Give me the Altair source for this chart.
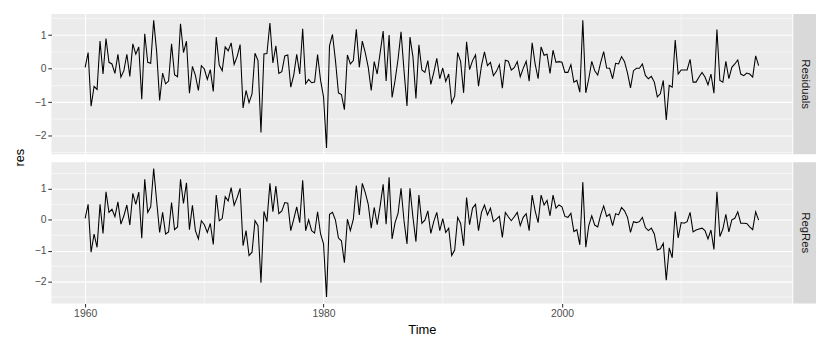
import altair as alt
import pandas as pd

# ---------------- data (quarterly, starting 1960 Q1) ----------------
start_year = 1960
periods_per_year = 4
series_names = ["Residuals", "RegRes"]
y_title = "res"

residuals = [
    0.04, 0.48, -1.12, -0.53, -0.62, 0.82, -0.16, 0.90, 0.19, 0.14,
    -0.14, 0.43, -0.25, -0.06, 0.43, -0.23, 0.74, 0.43, 0.65, -0.91,
    1.04, 0.19, 0.16, 1.44, 0.50, -0.95, -0.13, -0.45, -0.37, 0.74,
    -0.18, -0.24, 1.34, 0.48, 0.82, -0.73, 0.07, -0.20, -0.65, 0.09,
    -0.01, -0.32, -0.03, -0.68, 0.94, 0.11, -0.06, 0.65, 0.53, 0.77,
    0.13, 0.36, 0.72, -1.17, -0.65, -1.01, -0.75, 0.46, 0.24, -1.90,
    0.44, 0.45, 1.36, 0.17, 0.68, -0.14, -0.09, 0.38, 0.41, -0.55,
    -0.19, 0.43, -0.16, 1.19, -0.45, -0.32, -0.42, -0.40, 0.42, -0.35,
    -0.84, -2.36, 0.68, 1.02, 0.24, -0.72, -0.77, -1.22, 0.41, 0.14,
    0.24, 1.17, 0.04, 0.82, 0.48, 0.04, -0.65, 0.21, -0.16, 0.48,
    1.12, -0.37, 1.00, -0.86, -0.35, 0.28, 1.10, -0.05, -1.11, 0.94,
    0.35, -0.89, 0.71, -0.04, -0.11, 0.24, -0.47, -0.11, 0.31, -0.30,
    0.02, -0.38, -0.16, -1.02, -0.82, 0.48, 0.21, -0.72, 0.80, -0.03,
    0.24, 0.41, -0.52, 0.09, 0.50, 0.09, 0.19, -0.21, -0.08, 0.12,
    -0.58, 0.25, 0.22, -0.04, 0.03, 0.21, -0.24, 0.01, 0.22, -0.37,
    0.77, 0.14, -0.30, 0.65, 0.40, 0.43, -0.14, 0.55, 0.19, 0.21,
    0.19, -0.11, -0.11, 0.12, -0.40, -0.35, -0.70, 1.44, -0.72, -0.30,
    0.22, -0.06, -0.19, 0.19, 0.51, 0.02, 0.01, -0.30, 0.16, 0.14,
    0.36, 0.21, -0.13, -0.57, -0.06, 0.01, 0.01, 0.14, -0.20, -0.30,
    -0.23, -0.40, -0.84, -0.75, -0.35, -1.53, -0.50, -0.55, 0.85, -0.16,
    -0.04, -0.04, -0.04, 0.28, -0.40, -0.40, -0.25, -0.11, -0.25, -0.48,
    -0.16, -0.73, 1.17, -0.35, -0.40, 0.22, -0.30, 0.04, 0.14, 0.26,
    -0.16, -0.21, -0.13, -0.16, -0.25, 0.38, 0.09,
]

regres = [
    0.05, 0.50, -1.05, -0.46, -0.89, 0.50, -0.44, 0.91, 0.24, 0.34,
    0.10, 0.58, -0.14, 0.13, 0.48, -0.17, 0.86, 0.50, 0.90, -0.60,
    1.31, 0.24, 0.42, 1.66, 0.60, -0.41, 0.24, -0.46, -0.39, 0.56,
    -0.32, -0.23, 1.31, 0.53, 1.20, -0.32, 0.47, -0.35, -0.62, -0.03,
    -0.16, -0.41, -0.12, -0.80, 0.80, -0.03, 0.04, 0.75, 0.61, 1.04,
    0.47, 0.72, 1.02, -0.84, -0.35, -1.16, -1.05, -0.03, -0.19, -2.04,
    0.27, -0.06, 1.18, 0.26, 1.09, 0.20, 0.29, 0.56, 0.54, -0.35,
    0.02, 0.42, -0.09, 1.28, -0.35, 0.00, -0.35, -0.43, 0.26, -0.46,
    -0.78, -2.50, 0.18, 0.24, -0.01, -0.59, -0.68, -1.39, 0.02, -0.35,
    0.02, 1.11, 0.16, 1.18, 0.88, 0.50, -0.27, 0.40, -0.16, 0.45,
    1.15, -0.14, 1.38, -0.62, -0.09, 0.21, 1.02, -0.03, -0.78, 1.02,
    0.08, -0.71, 0.80, -0.11, -0.01, 0.29, -0.44, -0.05, 0.24, -0.35,
    0.04, -0.41, -0.27, -1.16, -0.98, 0.08, -0.12, -0.84, 0.72, -0.16,
    0.38, 0.50, -0.35, 0.24, 0.48, 0.16, 0.38, -0.06, 0.02, 0.11,
    -0.57, 0.24, 0.10, -0.03, 0.10, 0.24, -0.19, 0.08, 0.20, -0.35,
    0.80, 0.29, -0.09, 0.80, 0.48, 0.63, 0.13, 0.80, 0.38, 0.48,
    0.42, 0.11, 0.08, 0.21, -0.38, -0.32, -0.81, 1.22, -0.89, -0.19,
    0.13, -0.17, -0.23, 0.16, 0.45, 0.11, 0.18, -0.19, 0.20, 0.16,
    0.40, 0.29, 0.08, -0.41, -0.06, -0.09, -0.06, 0.08, -0.25, -0.35,
    -0.27, -0.46, -0.98, -0.94, -0.76, -1.96, -0.91, -1.23, 0.27, -0.59,
    -0.09, -0.11, -0.06, 0.24, -0.39, -0.33, -0.30, -0.27, -0.35, -0.62,
    -0.33, -0.96, 0.91, -0.54, -0.30, 0.18, -0.39, 0.00, 0.05, 0.26,
    -0.11, -0.11, -0.12, -0.23, -0.32, 0.26, -0.01,
]

x_ticks = [1960, 1980, 2000]
x_minor = [1970, 1990, 2010]
y_ticks = [-2, -1, 0, 1]
y_minor = [-2.5, -1.5, -0.5, 0.5, 1.5]

# ---------------- styling ----------------
FONT = "Liberation Sans"
PANEL_W = 750
STRIP_W = 23
H1, H2, GAP = 142, 143, 6
PANEL_BG = "#EBEBEB"
STRIP_BG = "#D9D9D9"

time = [start_year + i / periods_per_year for i in range(len(residuals))]


def expand(lo, hi, f=0.05):
    r = hi - lo
    return [lo - f * r, hi + f * r]


x_dom = expand(min(time), max(time))


def panel(values, height, bottom):
    df = pd.DataFrame({"Time": time, "res": values})
    y_dom = expand(min(values), max(values))
    xs = alt.Scale(domain=x_dom, nice=False, zero=False)
    ys = alt.Scale(domain=y_dom, nice=False, zero=False)

    ymin_df = pd.DataFrame({"res": [v for v in y_minor if y_dom[0] <= v <= y_dom[1]]})
    xmin_df = pd.DataFrame({"Time": x_minor})

    hgrid = alt.Chart(ymin_df).mark_rule(color="white", strokeWidth=0.55).encode(
        y=alt.Y("res:Q", scale=ys)
    )
    vgrid = alt.Chart(xmin_df).mark_rule(color="white", strokeWidth=0.55).encode(
        x=alt.X("Time:Q", scale=xs)
    )

    if bottom:
        x_axis = alt.Axis(values=x_ticks, format="d", title="Time",
                          titleY=30, titleBaseline="alphabetic")
    else:
        x_axis = alt.Axis(values=x_ticks, format="d", title=None,
                          labels=False, ticks=False)
    y_axis = alt.Axis(values=y_ticks, format="d", title=None)

    line = alt.Chart(df).mark_line(color="black", strokeWidth=1.07).encode(
        x=alt.X("Time:Q", scale=xs, axis=x_axis),
        y=alt.Y("res:Q", scale=ys, axis=y_axis),
    )
    return alt.layer(hgrid, vgrid, line).properties(
        width=PANEL_W, height=height,
        view=alt.ViewBackground(fill=PANEL_BG, strokeWidth=0),
    )


def strip(label, height):
    return alt.Chart(pd.DataFrame({"label": [label]})).mark_text(
        angle=90, font=FONT, fontSize=11.5, color="#1A1A1A",
        align="center", baseline="middle",
    ).encode(
        text="label:N", x=alt.value(STRIP_W / 2), y=alt.value(height / 2)
    ).properties(
        width=STRIP_W, height=height,
        view=alt.ViewBackground(fill=STRIP_BG, strokeWidth=0),
    )


ytitle = alt.Chart(pd.DataFrame({"label": [y_title]})).mark_text(
    angle=270, font=FONT, fontSize=13, color="black",
    align="center", baseline="alphabetic",
).encode(
    text="label:N", x=alt.value(15), y=alt.value((H1 + GAP + H2) / 2)
).properties(width=16, height=H1 + GAP + H2)

row1 = alt.hconcat(panel(residuals, H1, False), strip(series_names[0], H1), spacing=0)
row2 = alt.hconcat(panel(regres, H2, True), strip(series_names[1], H2), spacing=0)
panels = alt.vconcat(row1, row2, spacing=GAP)

chart = alt.hconcat(ytitle, panels, spacing=6).properties(
    padding={"left": 0, "top": 3, "right": 2, "bottom": 2},
    background="white",
).configure_view(
    stroke="transparent"
).configure_axis(
    domain=False,
    grid=True,
    gridColor="white",
    gridWidth=1.1,
    tickColor="#333333",
    tickSize=3.7,
    tickWidth=1.07,
    labelColor="#4D4D4D",
    labelFont=FONT,
    labelFontSize=10.5,
    labelPadding=1.8,
    titleFont=FONT,
    titleFontSize=13,
    titleColor="black",
    titleFontWeight="normal",
)

chart.save("out.html", embed_options={"renderer": "svg", "actions": False})
